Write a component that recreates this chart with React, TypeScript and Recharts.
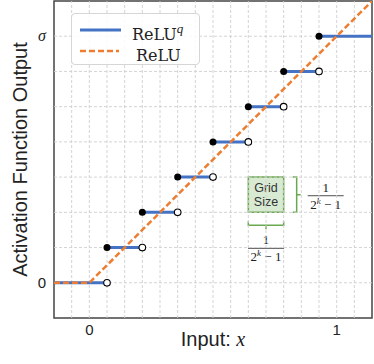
import React from 'react';
import {
  ComposedChart,
  Line,
  Scatter,
  XAxis,
  YAxis,
  ReferenceLine,
  ReferenceArea,
} from 'recharts';

// ---- data ----
const xDomain: [number, number] = [-1 / 7, 8 / 7];
const yDomain: [number, number] = [-1 / 7, 8 / 7];

// quantized ReLU steps (k = 3 -> 7 levels)
const stepStartX = [-1 / 7, 0.5 / 7, 1.5 / 7, 2.5 / 7, 3.5 / 7, 4.5 / 7, 5.5 / 7, 6.5 / 7];
const stepEndX = [0.5 / 7, 1.5 / 7, 2.5 / 7, 3.5 / 7, 4.5 / 7, 5.5 / 7, 6.5 / 7, 8 / 7];
const stepLevel = [0, 1 / 7, 2 / 7, 3 / 7, 4 / 7, 5 / 7, 6 / 7, 7 / 7];

// plain ReLU
const reluX = [-1 / 7, 0, 8 / 7];
const reluY = [0, 0, 8 / 7];

// grid
const gridX = [
  -1 / 14, 0, 1 / 14, 2 / 14, 3 / 14, 4 / 14, 5 / 14, 6 / 14, 7 / 14, 8 / 14, 9 / 14,
  10 / 14, 11 / 14, 12 / 14, 13 / 14, 14 / 14, 15 / 14,
];
const gridY = [0, 1 / 7, 2 / 7, 3 / 7, 4 / 7, 5 / 7, 6 / 7, 7 / 7];

const xTicks = [0, 1];
const yTicks = [0, 1];
const yTickLabels = ['0', 'σ'];

// grid-size annotation cell
const cellX = [4.5 / 7, 5.5 / 7];
const cellY = [2 / 7, 3 / 7];

// ---- derived tables ----
const stepData: { x: number; y: number | null }[] = [];
stepStartX.forEach((s, i) => {
  stepData.push({ x: s, y: stepLevel[i] });
  stepData.push({ x: stepEndX[i], y: stepLevel[i] });
  stepData.push({ x: stepEndX[i], y: null });
});
const reluData = reluX.map((x, i) => ({ x, y: reluY[i] }));
const filledDots = stepStartX.slice(1).map((x, i) => ({ x, y: stepLevel[i + 1] }));
const openDots = stepEndX.slice(0, 7).map((x, i) => ({ x, y: stepLevel[i] }));

const BLUE = '#4472c4';
const ORANGE = '#ed7d31';
const GREEN = '#6aa84f';
const SANS = '"Liberation Sans", Arial, sans-serif';
const SERIF = '"DejaVu Serif", serif';
const MATH = '"Liberation Serif", "DejaVu Serif", serif';

const XTick = (props: any) => {
  const { x, y, payload } = props;
  return (
    <text x={x} y={y + 9} textAnchor="middle" fontFamily={SANS} fontSize={15} fill="#222">
      {payload.value}
    </text>
  );
};

const YTick = (props: any) => {
  const { x, y, payload } = props;
  const idx = yTicks.indexOf(payload.value);
  const isSigma = idx === 1;
  return (
    <text
      x={x}
      y={y + 5}
      textAnchor="end"
      fontFamily={isSigma ? MATH : SANS}
      fontStyle={isSigma ? 'italic' : 'normal'}
      fontSize={isSigma ? 16 : 15}
      fill="#222"
    >
      {yTickLabels[idx]}
    </text>
  );
};

const Fraction = ({ cx, cy }: { cx: number; cy: number }) => (
  <g fontFamily={MATH} fontSize={13} fill="#222">
    <text x={cx} y={cy - 4} textAnchor="middle">1</text>
    <line x1={cx - 18} x2={cx + 18} y1={cy} y2={cy} stroke="#222" strokeWidth={0.8} />
    <text x={cx} y={cy + 13} textAnchor="middle">
      2<tspan fontStyle="italic" fontSize={9} dy={-5}>k</tspan>
      <tspan dy={5}> − 1</tspan>
    </text>
  </g>
);

const CellLabel = (props: any) => {
  const { viewBox } = props;
  const { x, y, width, height } = viewBox;
  const cx = x + width / 2;
  const right = x + width;
  const bottom = y + height;
  const bx = right + 13;
  const by = bottom + 13;
  return (
    <g>
      <text x={cx} y={y + 15} textAnchor="middle" fontFamily={SANS} fontSize={12.5} fill="#333">Grid</text>
      <text x={cx} y={y + 29} textAnchor="middle" fontFamily={SANS} fontSize={12.5} fill="#333">Size</text>
      {/* right bracket */}
      <path
        d={`M ${bx - 4} ${y} L ${bx} ${y} L ${bx} ${bottom} L ${bx - 4} ${bottom} M ${bx} ${y + height / 2} L ${bx + 4} ${y + height / 2}`}
        fill="none"
        stroke={GREEN}
        strokeWidth={1.5}
      />
      {/* bottom bracket */}
      <path
        d={`M ${x} ${by - 4} L ${x} ${by} L ${right} ${by} L ${right} ${by - 4} M ${cx} ${by} L ${cx} ${by + 4}`}
        fill="none"
        stroke={GREEN}
        strokeWidth={1.5}
      />
      <Fraction cx={bx + 29} cy={y + height / 2 + 1} />
      <Fraction cx={cx} cy={by + 23} />
    </g>
  );
};

const XLabel = (props: any) => {
  const { viewBox } = props;
  const cx = viewBox.x + viewBox.width / 2;
  return (
    <text x={cx} y={346} textAnchor="middle" fontFamily={SANS} fontSize={20} fill="#222">
      Input:{' '}
      <tspan fontFamily={MATH} fontStyle="italic">x</tspan>
    </text>
  );
};

const YLabel = (props: any) => {
  const { viewBox } = props;
  const cy = viewBox.y + viewBox.height / 2;
  return (
    <text
      x={20}
      y={cy}
      dy="0.35em"
      transform={`rotate(-90, 20, ${cy})`}
      textAnchor="middle"
      fontFamily={SANS}
      fontSize={20}
      fill="#222"
    >
      Activation Function Output
    </text>
  );
};

const LegendBox = () => (
  <div
    style={{
      position: 'absolute',
      left: 71,
      top: 13,
      width: 129,
      height: 52,
      border: '1px solid #d6d6d6',
      borderRadius: 4,
      background: 'rgba(255,255,255,0.85)',
      boxSizing: 'border-box',
    }}
  >
    <svg width={129} height={52} style={{ position: 'absolute', left: -1, top: -1 }}>
      <line x1={9} x2={50} y1={17} y2={17} stroke={BLUE} strokeWidth={3} />
      <line x1={9} x2={48} y1={38} y2={38} stroke={ORANGE} strokeWidth={2.5} strokeDasharray="6 3" />
      <text x={61} y={27} fontFamily={SERIF} fontSize={16} fill="#222">
        ReLU<tspan fontFamily={MATH} fontStyle="italic" fontSize={13} dy={-7}>q</tspan>
      </text>
      <text x={65} y={48} fontFamily={SERIF} fontSize={16} fill="#222">ReLU</text>
    </svg>
  </div>
);

export default function App() {
  return (
    <div style={{ position: 'absolute', left: 0, top: 0, width: 374, height: 364, background: '#fff' }}>
      <ComposedChart
        width={374}
        height={364}
        margin={{ top: 1, right: 2, left: 0, bottom: 0 }}
      >
        <XAxis
          type="number"
          dataKey="x"
          domain={xDomain}
          ticks={xTicks}
          tick={<XTick />}
          tickLine={false}
          axisLine={false}
          height={46}
          allowDataOverflow
          label={<XLabel />}
        />
        <YAxis
          type="number"
          dataKey="y"
          domain={yDomain}
          ticks={yTicks}
          tick={<YTick />}
          tickLine={false}
          axisLine={false}
          width={54}
          allowDataOverflow
          label={<YLabel />}
        />
        {gridX.map((gx) => (
          <ReferenceLine key={'gx' + gx} x={gx} stroke="#cfcfcf" strokeDasharray="3 2" strokeWidth={0.9} />
        ))}
        {gridY.map((gy) => (
          <ReferenceLine key={'gy' + gy} y={gy} stroke="#cfcfcf" strokeDasharray="3 2" strokeWidth={0.9} />
        ))}
        <ReferenceArea
          x1={cellX[0]}
          x2={cellX[1]}
          y1={cellY[0]}
          y2={cellY[1]}
          fill="#d9ead3"
          fillOpacity={1}
          stroke={GREEN}
          strokeWidth={1.5}
          label={<CellLabel />}
        />
        <Line
          data={stepData}
          dataKey="y"
          type="linear"
          stroke={BLUE}
          strokeWidth={3}
          dot={false}
          activeDot={false}
          connectNulls={false}
          isAnimationActive={false}
        />
        <Line
          data={reluData}
          dataKey="y"
          type="linear"
          stroke={ORANGE}
          strokeWidth={2.5}
          strokeDasharray="6 3"
          dot={false}
          activeDot={false}
          isAnimationActive={false}
        />
        <Scatter
          data={filledDots}
          dataKey="y"
          fill="#000"
          isAnimationActive={false}
          shape={(p: any) => <circle cx={p.cx} cy={p.cy} r={3.5} fill="#000" />}
        />
        <Scatter
          data={openDots}
          dataKey="y"
          fill="#fff"
          isAnimationActive={false}
          shape={(p: any) => <circle cx={p.cx} cy={p.cy} r={3.3} fill="#fff" stroke="#000" strokeWidth={1.1} />}
        />
        <ReferenceArea
          x1={xDomain[0]}
          x2={xDomain[1]}
          y1={yDomain[0]}
          y2={yDomain[1]}
          fill="none"
          stroke="#444"
          strokeWidth={1.5}
          ifOverflow="visible"
        />
      </ComposedChart>
      <LegendBox />
    </div>
  );
}
